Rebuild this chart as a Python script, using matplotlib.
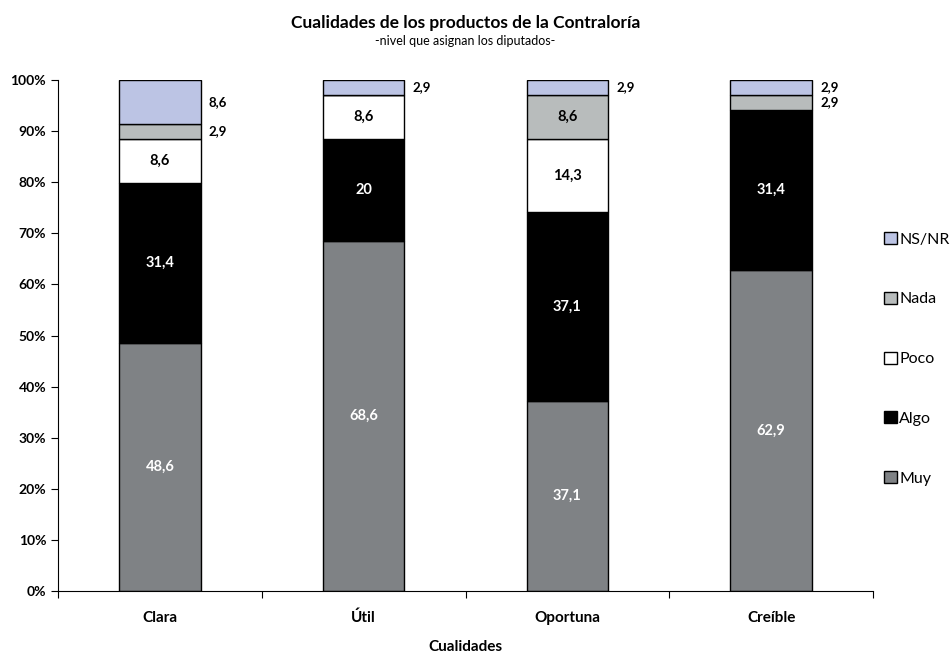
import numpy as np
import matplotlib.pyplot as plt
from matplotlib.ticker import PercentFormatter, FixedLocator

plt.rcParams['font.family'] = ['Lato', 'DejaVu Sans']

categories = ['Clara', 'Útil', 'Oportuna', 'Creíble']
series = ['Muy', 'Algo', 'Poco', 'Nada', 'NS/NR']
muy = [48.6, 68.6, 37.1, 62.9]
algo = [31.4, 20, 37.1, 31.4]
poco = [8.6, 8.6, 14.3, 0]
nada = [2.9, 0, 8.6, 2.9]
nsnr = [8.6, 2.9, 2.9, 2.9]

colors = ['#7f8285', '#000000', '#ffffff', '#b8bcbc', '#bcc4e4']
text_colors = ['white', 'white', 'black', 'black', 'black']

data = np.array([muy, algo, poco, nada, nsnr])
pct = data / data.sum(axis=0) * 100

fig = plt.figure(figsize=(9.5, 6.56), dpi=100)
ax = fig.add_axes([0.061, 0.099, 0.858, 0.779])

x = np.arange(len(categories))
w = 0.4
bottom = np.zeros(len(categories))
handles = []
for i, name in enumerate(series):
    b = ax.bar(x, pct[i], w, bottom=bottom, color=colors[i],
               edgecolor='black', linewidth=1, label=name)
    handles.append(b)
    for j in range(len(categories)):
        v = data[i, j]
        if v == 0:
            continue
        lab = ('%g' % v).replace('.', ',')
        yc = bottom[j] + pct[i, j] / 2
        outside = name == 'NS/NR' or (name == 'Nada' and v < 5)
        if outside:
            ax.text(x[j] + w / 2 + 0.04, yc, lab, ha='left', va='center',
                    fontsize=9.5, fontweight='bold', color='black')
        else:
            ax.text(x[j], yc, lab, ha='center', va='center',
                    fontsize=10.5, fontweight='bold', color=text_colors[i])
    bottom += pct[i]

ax.set_xlim(-0.5, len(categories) - 0.5)
ax.set_ylim(0, 100)
ax.yaxis.set_major_locator(FixedLocator(np.arange(0, 101, 10)))
ax.yaxis.set_major_formatter(PercentFormatter(decimals=0))
ax.spines['top'].set_visible(False)
ax.spines['right'].set_visible(False)
ax.tick_params(axis='y', direction='out', length=5, labelsize=10)
ax.set_yticklabels([f'{v}%' for v in range(0, 101, 10)], fontweight='bold')

ax.set_xticks(np.arange(-0.5, len(categories), 1))
ax.set_xticklabels([])
ax.tick_params(axis='x', direction='out', length=5)
for j, c in enumerate(categories):
    ax.text(x[j], -3.9, c, ha='center', va='top', fontsize=11,
            fontweight='bold', transform=ax.transData)
fig.text(0.49, 0.003, 'Cualidades', ha='center', va='bottom',
         fontsize=11, fontweight='bold')

fig.text(0.49, 0.952, 'Cualidades de los productos de la Contraloría',
         ha='center', va='bottom', fontsize=12.5, fontweight='bold')
fig.text(0.49, 0.928, '-nivel que asignan los diputados-',
         ha='center', va='bottom', fontsize=9)

fig.legend(handles[::-1], series[::-1], loc='center left',
           bbox_to_anchor=(0.924, 0.453), frameon=False, fontsize=11.5,
           handlelength=0.8, handleheight=0.8, handletextpad=0.15,
           labelspacing=2.82, borderaxespad=0)

fig.savefig('out.png', dpi=100)
